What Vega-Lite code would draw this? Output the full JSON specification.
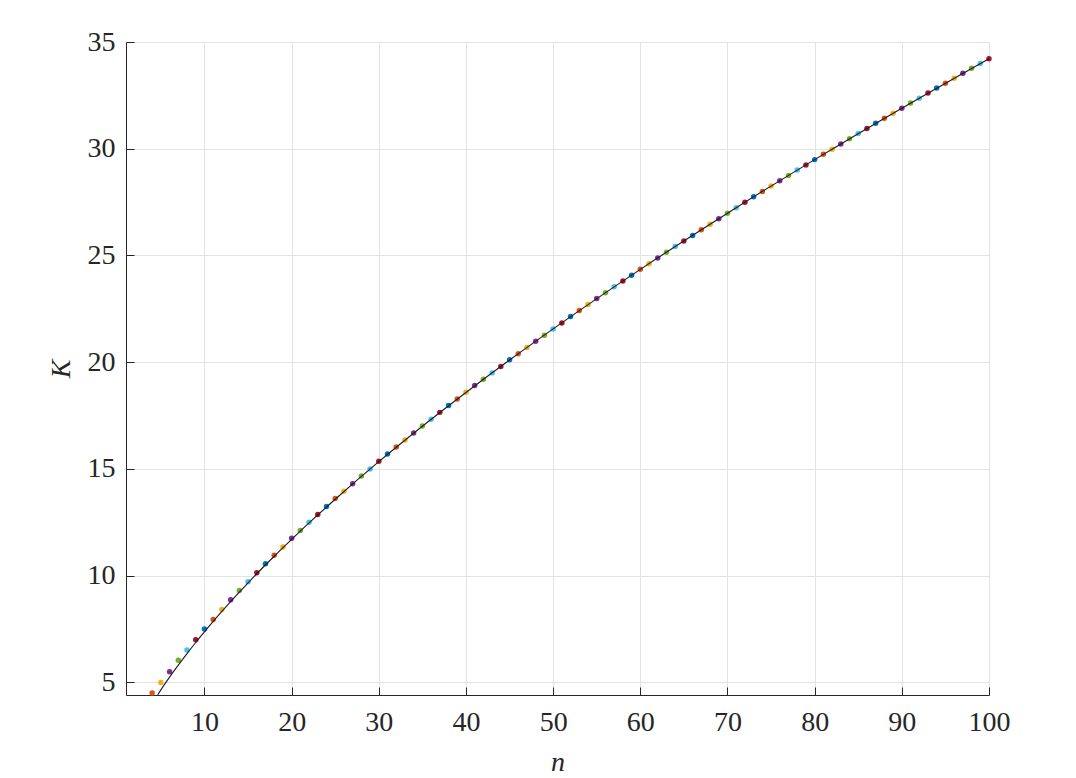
{
  "$schema": "https://vega.github.io/schema/vega-lite/v6.json",
  "width": 863,
  "height": 653,
  "autosize": {"type": "none"},
  "padding": {"left": 126, "top": 42, "right": 87, "bottom": 83},
  "background": "#ffffff",
  "config": {
    "view": {"stroke": null},
    "axis": {
      "domainColor": "#262626",
      "domainWidth": 1,
      "tickColor": "#262626",
      "tickSize": -8,
      "tickWidth": 1,
      "gridColor": "#E3E3E3",
      "gridWidth": 1,
      "labelFont": "Liberation Serif",
      "labelFontSize": 28,
      "labelColor": "#262626",
      "labelFlush": false,
      "labelOverlap": false,
      "titleFont": "Liberation Serif",
      "titleFontSize": 28,
      "titleFontStyle": "italic",
      "titleFontWeight": "normal",
      "titleColor": "#262626"
    }
  },
  "datasets": {
    "pts": [
      {"n": 4, "K": 4.5, "c": 1}, {"n": 5, "K": 5.0, "c": 2}, {"n": 6, "K": 5.5, "c": 3}, {"n": 7, "K": 6.04, "c": 4},
      {"n": 8, "K": 6.52, "c": 5}, {"n": 9, "K": 7.0, "c": 6}, {"n": 10, "K": 7.5, "c": 0}, {"n": 11, "K": 7.95, "c": 1},
      {"n": 12, "K": 8.42, "c": 2}, {"n": 13, "K": 8.87, "c": 3}, {"n": 14, "K": 9.3, "c": 4}, {"n": 15, "K": 9.72, "c": 5},
      {"n": 16, "K": 10.14, "c": 6}, {"n": 17, "K": 10.56, "c": 0}, {"n": 18, "K": 10.96, "c": 1}, {"n": 19, "K": 11.34, "c": 2},
      {"n": 20, "K": 11.75, "c": 3}, {"n": 21, "K": 12.12, "c": 4}, {"n": 22, "K": 12.5, "c": 5}, {"n": 23, "K": 12.87, "c": 6},
      {"n": 24, "K": 13.24, "c": 0}, {"n": 25, "K": 13.61, "c": 1}, {"n": 26, "K": 13.96, "c": 2}, {"n": 27, "K": 14.31, "c": 3},
      {"n": 28, "K": 14.67, "c": 4}, {"n": 29, "K": 15.0, "c": 5}, {"n": 30, "K": 15.36, "c": 6}, {"n": 31, "K": 15.7, "c": 0},
      {"n": 32, "K": 16.03, "c": 1}, {"n": 33, "K": 16.36, "c": 2}, {"n": 34, "K": 16.68, "c": 3}, {"n": 35, "K": 17.01, "c": 4},
      {"n": 36, "K": 17.33, "c": 5}, {"n": 37, "K": 17.65, "c": 6}, {"n": 38, "K": 17.97, "c": 0}, {"n": 39, "K": 18.28, "c": 1},
      {"n": 40, "K": 18.59, "c": 2}, {"n": 41, "K": 18.91, "c": 3}, {"n": 42, "K": 19.2, "c": 4}, {"n": 43, "K": 19.5, "c": 5},
      {"n": 44, "K": 19.8, "c": 6}, {"n": 45, "K": 20.11, "c": 0}, {"n": 46, "K": 20.4, "c": 1}, {"n": 47, "K": 20.69, "c": 2},
      {"n": 48, "K": 20.98, "c": 3}, {"n": 49, "K": 21.26, "c": 4}, {"n": 50, "K": 21.56, "c": 5}, {"n": 51, "K": 21.84, "c": 6},
      {"n": 52, "K": 22.14, "c": 0}, {"n": 53, "K": 22.42, "c": 1}, {"n": 54, "K": 22.7, "c": 2}, {"n": 55, "K": 22.98, "c": 3},
      {"n": 56, "K": 23.25, "c": 4}, {"n": 57, "K": 23.53, "c": 5}, {"n": 58, "K": 23.8, "c": 6}, {"n": 59, "K": 24.07, "c": 0},
      {"n": 60, "K": 24.35, "c": 1}, {"n": 61, "K": 24.61, "c": 2}, {"n": 62, "K": 24.88, "c": 3}, {"n": 63, "K": 25.15, "c": 4},
      {"n": 64, "K": 25.42, "c": 5}, {"n": 65, "K": 25.68, "c": 6}, {"n": 66, "K": 25.94, "c": 0}, {"n": 67, "K": 26.2, "c": 1},
      {"n": 68, "K": 26.46, "c": 2}, {"n": 69, "K": 26.72, "c": 3}, {"n": 70, "K": 26.98, "c": 4}, {"n": 71, "K": 27.24, "c": 5},
      {"n": 72, "K": 27.49, "c": 6}, {"n": 73, "K": 27.75, "c": 0}, {"n": 74, "K": 28.0, "c": 1}, {"n": 75, "K": 28.25, "c": 2},
      {"n": 76, "K": 28.5, "c": 3}, {"n": 77, "K": 28.75, "c": 4}, {"n": 78, "K": 29.0, "c": 5}, {"n": 79, "K": 29.24, "c": 6},
      {"n": 80, "K": 29.49, "c": 0}, {"n": 81, "K": 29.74, "c": 1}, {"n": 82, "K": 29.98, "c": 2}, {"n": 83, "K": 30.22, "c": 3},
      {"n": 84, "K": 30.47, "c": 4}, {"n": 85, "K": 30.71, "c": 5}, {"n": 86, "K": 30.95, "c": 6}, {"n": 87, "K": 31.19, "c": 0},
      {"n": 88, "K": 31.43, "c": 1}, {"n": 89, "K": 31.66, "c": 2}, {"n": 90, "K": 31.9, "c": 3}, {"n": 91, "K": 32.14, "c": 4},
      {"n": 92, "K": 32.37, "c": 5}, {"n": 93, "K": 32.61, "c": 6}, {"n": 94, "K": 32.84, "c": 0}, {"n": 95, "K": 33.07, "c": 1},
      {"n": 96, "K": 33.3, "c": 2}, {"n": 97, "K": 33.54, "c": 3}, {"n": 98, "K": 33.77, "c": 4}, {"n": 99, "K": 33.99, "c": 5},
      {"n": 100, "K": 34.22, "c": 6}
    ],
    "fit": [
      {"n": 4.63, "K": 4.41}, {"n": 5, "K": 4.65}, {"n": 6, "K": 5.25}, {"n": 7, "K": 5.81}, {"n": 8, "K": 6.35},
      {"n": 9, "K": 6.87}, {"n": 10, "K": 7.37}, {"n": 11, "K": 7.86}, {"n": 12, "K": 8.33}, {"n": 13, "K": 8.78},
      {"n": 14, "K": 9.23}, {"n": 15, "K": 9.66}, {"n": 16, "K": 10.09}, {"n": 18, "K": 10.91}, {"n": 20, "K": 11.7},
      {"n": 22, "K": 12.47}, {"n": 25, "K": 13.58}, {"n": 30, "K": 15.34}, {"n": 35, "K": 17.0}, {"n": 40, "K": 18.58},
      {"n": 45, "K": 20.1}, {"n": 50, "K": 21.56}, {"n": 60, "K": 24.35}, {"n": 70, "K": 26.98}, {"n": 80, "K": 29.49},
      {"n": 90, "K": 31.9}, {"n": 100, "K": 34.22}
    ]
  },
  "layer": [
    {
      "data": {"name": "pts"},
      "mark": {"type": "point", "filled": true, "size": 30, "opacity": 1},
      "encoding": {
        "x": {
          "field": "n", "type": "quantitative",
          "scale": {"domain": [1, 100], "nice": false, "zero": false},
          "axis": {"values": [10, 20, 30, 40, 50, 60, 70, 80, 90, 100], "title": "n", "labelPadding": 21, "titlePadding": 12}
        },
        "y": {
          "field": "K", "type": "quantitative",
          "scale": {"domain": [4.41, 35], "nice": false, "zero": false},
          "axis": {"values": [5, 10, 15, 20, 25, 30, 35], "title": "K", "labelPadding": 19, "titlePadding": 12}
        },
        "color": {
          "field": "c", "type": "nominal", "legend": null,
          "scale": {"domain": [0, 1, 2, 3, 4, 5, 6], "range": ["#0072BD", "#D95319", "#EDB120", "#7E2F8E", "#77AC30", "#4DBEEE", "#A2142F"]}
        }
      }
    },
    {
      "data": {"name": "fit"},
      "mark": {"type": "line", "color": "#1a1a1a", "strokeWidth": 1.1, "interpolate": "monotone"},
      "encoding": {
        "x": {"field": "n", "type": "quantitative"},
        "y": {"field": "K", "type": "quantitative"}
      }
    }
  ]
}
